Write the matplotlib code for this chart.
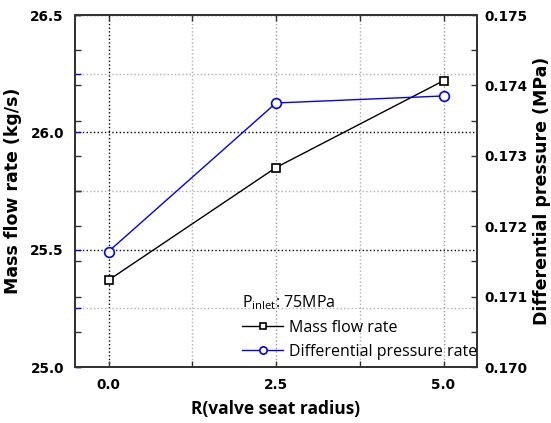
import matplotlib
matplotlib.use("Agg")
import matplotlib.pyplot as plt
from matplotlib.ticker import MultipleLocator, FormatStrFormatter

# Data
radius = [0.0, 2.5, 5.0]
mass_flow = [25.37, 25.85, 26.22]          # kg/s
diff_pressure = [0.17164, 0.17375, 0.17385]  # MPa

x_ticks = [0.0, 2.5, 5.0]
x_tick_labels = ["0.0", "2.5", "5.0"]
legend_title = r"P$_{\mathrm{inlet}}$: 75MPa"
series_names = ["Mass flow rate", "Differential pressure rate"]

plt.rcParams["mathtext.fontset"] = "custom"
plt.rcParams["mathtext.rm"] = "Open Sans"
plt.rcParams["mathtext.it"] = "Open Sans:italic"

fig = plt.figure(figsize=(5.51, 4.23), dpi=100)
ax1 = fig.add_axes([75 / 551, 56 / 423, 402 / 551, 352 / 423])
ax2 = ax1.twinx()

spine_color = "#333333"
for ax in (ax1, ax2):
    for s in ax.spines.values():
        s.set_color(spine_color)
        s.set_linewidth(1.3)

# Series
l1, = ax1.plot(radius, mass_flow, color="black", lw=1.0, marker="s",
               markersize=6, markerfacecolor="white", markeredgecolor="black",
               markeredgewidth=1.2, zorder=5)
l2, = ax2.plot(radius, diff_pressure, color="#0000ff", lw=1.0, marker="o",
               markersize=7, markerfacecolor="white", markeredgecolor="#0000ff",
               markeredgewidth=1.2, zorder=5)

# Axis ranges and ticks
ax1.set_xlim(-0.5, 5.5)
ax1.set_ylim(25.0, 26.5)
ax2.set_ylim(0.170, 0.175)

ax1.set_xticks(x_ticks)
ax1.set_xticklabels(x_tick_labels)
ax1.xaxis.set_minor_locator(MultipleLocator(1.25))
ax1.yaxis.set_major_locator(MultipleLocator(0.5))
ax1.yaxis.set_minor_locator(MultipleLocator(0.25))
ax1.yaxis.set_major_formatter(FormatStrFormatter("%.1f"))
ax2.yaxis.set_major_locator(MultipleLocator(0.001))
ax2.yaxis.set_minor_locator(MultipleLocator(0.0005))
ax2.yaxis.set_major_formatter(FormatStrFormatter("%.3f"))

tick_font = dict(family="DejaVu Sans", weight="bold", size=9.8)
ax1.tick_params(axis="x", which="both", direction="in", top=True, bottom=True,
                length=4, width=1, color=spine_color, pad=8)
ax1.tick_params(axis="y", which="both", direction="in", left=True, right=False,
                length=4, width=1, color="#0000ff", pad=8)
ax2.tick_params(axis="y", which="both", direction="in", left=True, right=True,
                length=4, width=1, color=spine_color, pad=5)
for lab in ax1.get_xticklabels() + ax1.get_yticklabels() + ax2.get_yticklabels():
    lab.set_fontproperties(matplotlib.font_manager.FontProperties(**tick_font))

# Grid
ax1.set_axisbelow(True)
ax1.grid(True, axis="y", which="major", color="black", linestyle=":", lw=1.0)
ax1.grid(True, axis="y", which="minor", color="#b0b0b0", linestyle=":", lw=1.0)
ax1.grid(True, axis="x", which="major", color="#9a9a9a", linestyle=":", lw=1.0)
ax1.grid(True, axis="x", which="minor", color="#b0b0b0", linestyle=":", lw=1.0)
ax1.xaxis.get_gridlines()[0].set_color("black")

# Labels
ax1.set_xlabel("R(valve seat radius)", family="Open Sans", weight="bold",
               fontsize=12.5, labelpad=6)
ax1.set_ylabel("Mass flow rate (kg/s)", family="DejaVu Sans", weight="bold",
               fontsize=12.5, labelpad=6)
ax2.set_ylabel("Differential pressure (MPa)", family="DejaVu Sans",
               weight="bold", fontsize=12.5, labelpad=4)

# Legend
leg = ax2.legend([l1, l2], series_names, title=legend_title,
                 loc="lower left", bbox_to_anchor=(0.415, 0.02),
                 frameon=False, prop=dict(family="Open Sans", size=11.5),
                 title_fontproperties=dict(family="Open Sans", size=11.5),
                 handlelength=2.6, handletextpad=0.35, labelspacing=0.5,
                 markerscale=0.75, alignment="left", borderaxespad=0,
                 borderpad=0)

fig.savefig("out.png", dpi=100)
